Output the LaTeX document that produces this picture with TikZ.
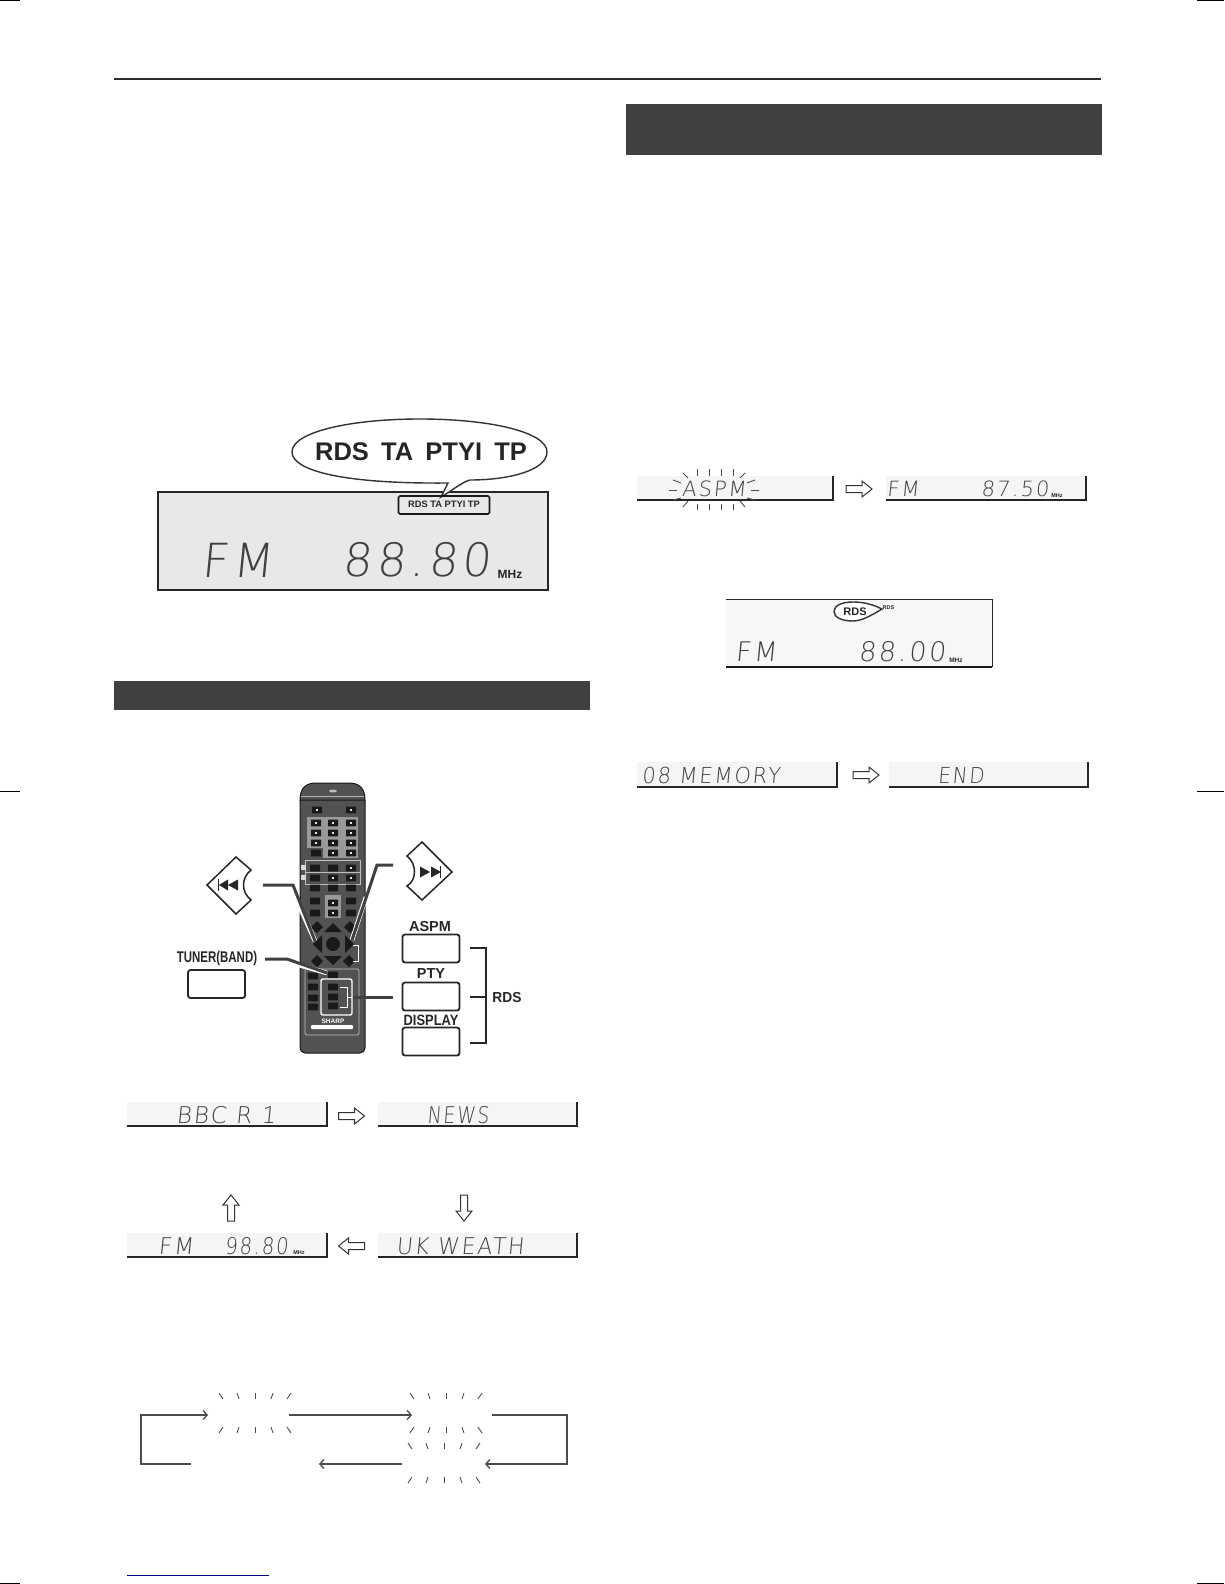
\documentclass[tikz,border=0pt]{standalone}
\usepackage{fontspec}
\usetikzlibrary{arrows.meta}
\setmainfont{Liberation Sans}
\newfontfamily\lcdfont[FakeSlant=0.1,LetterSpace=9]{DejaVu Sans ExtraLight}
\tikzset{
  lcd/.style={font=\lcdfont\fontsize{#1}{#1}\selectfont, text=black!75, inner sep=0pt},
  bold/.style={font=\bfseries\fontsize{#1}{#1}\selectfont, text=black!85, inner sep=0pt},
  keybox/.style={draw=black!85, line width=1.8pt, rounded corners=2.5pt, minimum width=57pt, minimum height=28pt, inner sep=0pt},
  lead/.style={line width=3pt, draw=black!75},
  hollow/.style={draw=black!80, line width=1pt, fill=white},
  flow/.style={line width=1.3pt, draw=black!70, >={Straight Barb[length=4pt,width=9pt]}},
}
% bottom and right edge of a small display
\newcommand\lcdstrip[4]{
  \fill[black!4] (#1,#2) rectangle (#3,#4);
  \draw[black!85, line width=1.6pt] (#1,#4) -- (#3,#4) -- (#3,#2);
}
\newcommand\hollowarrow[3]{
  \draw[hollow, shift={(#1,#2)}, rotate=#3] (-13,-3.5) -- (3,-3.5) -- (3,-8) -- (13,0) -- (3,8) -- (3,3.5) -- (-13,3.5) -- cycle;
}
\newcommand\flash[2]{
  \foreach \i in {-2,...,2} {
    \draw[black!70, line width=.9pt] (#1+\i*16,#2-14) -- (#1+\i*18,#2-20);
    \draw[black!70, line width=.9pt] (#1+\i*16,#2+14) -- (#1+\i*18,#2+20);
  }
}
\newcommand\rkey[2]{\fill[black!90, rounded corners=.6pt] (#1-5,#2-3.4) rectangle (#1+5,#2+3.4);}
\newcommand\rmark[2]{\fill[black!10] (#1-1.2,#2-1) rectangle (#1+1.2,#2+1);}
\begin{document}
\begin{tikzpicture}[x=1pt, y=-1pt]
  \useasboundingbox (0,0) rectangle (1224,1584);

  % page furniture
  \fill[black] (0,0) rectangle (20,1.2);
  \fill[black] (1197,0) rectangle (1224,1.2);
  \fill[black] (0,790.5) rectangle (20,791.8);
  \fill[black] (1197,790.5) rectangle (1224,791.8);
  \fill[black] (0,1582.8) rectangle (20,1584);
  \fill[black] (1197,1582.8) rectangle (1224,1584);
  \fill[black!82] (114,78) rectangle (1101,80);
  \fill[black!75] (626,104) rectangle (1102,155);
  \fill[black!75] (114,681) rectangle (590,710);
  \fill[blue!50!black] (127,1574.6) rectangle (269,1575.6);

  % large display
  \draw[black!85, fill=black!9, line width=1.5pt] (158,492) rectangle (548,590);
  \draw[black!80, fill=white, line width=1.4pt] (448,483) .. controls (340,484) and (292,470) .. (292,452)
    .. controls (292,432) and (350,419) .. (420,419) .. controls (490,419) and (547,432) .. (547,452)
    .. controls (547,470) and (510,480) .. (470,480) .. controls (462,482) and (450,492) .. (441,497) -- cycle;
  \node[bold=25.5] (bigtags) at (421,452) {RDS\hspace{.2em} TA\hspace{.2em} PTYI\hspace{.2em} TP};
  \node[draw=black!90, line width=1.7pt, rounded corners=1.5pt, minimum width=91pt, minimum height=18pt, inner sep=0pt] (tagbox) at (444,505) {};
  \node[bold=9.3] (smalltags) at (444,504) {RDS TA PTYI TP};
  \node[lcd=47] (bigfm) at (237,560) {FM};
  \node[lcd=46] (bigfreq) at (417,560) {88.80};
  \node[bold=12] (bigmhz) at (510,574) {MHz};

  % remote
  \draw[black!90, fill=black!68, line width=1pt, rounded corners=5pt] (300,800) -- (300,1053) -- (365,1053) -- (365,800);
  \draw[black!90, fill=black!68, line width=1pt] (300,800) .. controls (300,788) and (306,783) .. (316,783) -- (349,783) .. controls (359,783) and (365,788) .. (365,800) -- cycle;
  \draw[black!30, line width=.5pt] (301,796) -- (364,796);
  \fill[black!25] (333,791) ellipse (4 and 1.5);
  \fill[black!40] (307,817) rectangle (358,848);
  \fill[black!40] (323,848) rectangle (358,858);
  \foreach \y in {823,833,843} \foreach \x in {316,333,351} {\rkey{\x}{\y}\rmark{\x}{\y}}
  \rkey{316}{853}\rkey{333}{853}\rkey{351}{853}\rmark{333}{853}\rmark{351}{853}
  \rkey{317}{810}\rmark{317}{810}\rkey{351}{810}\rmark{351}{810}
  \draw[black!25, line width=.7pt] (305,860) rectangle (360,884);
  \draw[black!25, line width=.7pt] (305,872) -- (360,872);
  \fill[black!15] (301,865) rectangle (306,870);
  \fill[black!15] (301,875) rectangle (306,880);
  \foreach \y in {868,878,888} \foreach \x in {315,333,351} {\rkey{\x}{\y}}
  \rmark{351}{868}\rmark{333}{878}\rmark{351}{878}
  \fill[black!40] (325,895) rectangle (341,918);
  \foreach \y in {901,913} {\rkey{315}{\y}\rkey{351}{\y}}
  \rkey{333}{903}\rkey{333}{913}\rmark{333}{903}\rmark{333}{913}
  % cursor keys
  \fill[black!90] (333,923) -- (342,932) -- (324,932) -- cycle;
  \fill[black!90] (333,965) -- (342,956) -- (324,956) -- cycle;
  \fill[black!90] (313,944) -- (322,935) -- (322,953) -- cycle;
  \fill[black!90] (354,944) -- (345,935) -- (345,953) -- cycle;
  \foreach \x/\y in {317/927,350/927,317/961,349/961}
    \fill[black!90, shift={(\x,\y)}] (-6,0) -- (0,-6) -- (6,0) -- (0,6) -- cycle;
  \fill[black!90] (333,944) circle (7);
  \draw[white, line width=.6pt] (353,945) -- (358,945) -- (358,961) -- (353,961);
  \draw[black!25, line width=.7pt, rounded corners=2pt] (305,969) rectangle (359,1035);
  \rkey{333}{975}
  \foreach \y in {976,987,998,1007} {\rkey{313}{\y}}
  \draw[white, line width=1.4pt, rounded corners=2pt] (321,979) rectangle (352,1015);
  \foreach \y in {987,997,1006} {\rkey{333}{\y}}
  \draw[white, line width=.6pt] (340,987) -- (347,987) -- (347,1007) -- (340,1007);
  \draw[white, line width=.6pt] (347,997) -- (352,997);
  \node[bold=6.5, text=white] (maker) at (333,1021) {SHARP};
  \fill[white, rounded corners=1pt] (311,1025) rectangle (353,1029);

  % leads
  \coordinate (prevend) at (263,885);
  \coordinate (prevbend) at (293,885);
  \coordinate (prevkey) at (315,941);
  \coordinate (nextend) at (393,865);
  \coordinate (nextbend) at (377,865);
  \coordinate (nextkey) at (352,940);
  \coordinate (bandend) at (265,959);
  \coordinate (bandbend) at (287,959);
  \coordinate (bandkey) at (327,973);
  \coordinate (rdsend) at (393,997);
  \coordinate (rdskey) at (353,997);
  \draw[white, line width=4.6pt] (299,905) -- (prevkey);
  \draw[white, line width=4.6pt] (366,897) -- (nextkey);
  \draw[white, line width=4.6pt] (299,965) -- (bandkey);
  \draw[lead] (prevend) -- (prevbend) -- (prevkey);
  \draw[lead] (nextend) -- (nextbend) -- (nextkey);
  \draw[lead] (bandend) -- (bandbend) -- (bandkey);
  \draw[lead] (rdsend) -- (rdskey);

  % skip keys
  \draw[black!85, line width=1.5pt, line join=miter] (207,885) -- (236,857) -- (251,870) .. controls (241,878) and (241,892) .. (251,900) -- (236,914) -- cycle;
  \draw[black!85, line width=1.5pt, line join=miter] (452,872) -- (422,842) -- (407,856) .. controls (417,864) and (417,880) .. (407,886) -- (422,900) -- cycle;
  \fill[black!85] (218,879) rectangle (219.4,891);
  \fill[black!85] (219,885) -- (228,879.5) -- (228,890.5) -- cycle;
  \fill[black!85] (228,885) -- (238,879.5) -- (238,890.5) -- cycle;
  \fill[black!85] (440,866) rectangle (441.4,878);
  \fill[black!85] (441,872) -- (431,866.5) -- (431,877.5) -- cycle;
  \fill[black!85] (430,872) -- (420,866.5) -- (420,877.5) -- cycle;

  \node[keybox] (tunerkey) at (216.5,984) {};
  \node[bold=15.5, xscale=.74] (tunerlabel) at (217,958) {TUNER(BAND)};
  \node[keybox] (aspmkey) at (431,948.5) {};
  \node[bold=14.5] (aspmlabel) at (430,926) {ASPM};
  \node[keybox] (ptykey) at (431,996.5) {};
  \node[bold=14.5] (ptylabel) at (431,974) {PTY};
  \node[keybox] (displaykey) at (431,1041.5) {};
  \node[bold=15, xscale=.86] (displaylabel) at (431,1020) {DISPLAY};
  \node[bold=14.5, xscale=.95] (rdslabel) at (507,997) {RDS};
  \coordinate (bracktop) at (470,948);
  \coordinate (brackmid) at (470,997);
  \coordinate (brackbot) at (470,1043);
  \draw[black!85, line width=1.6pt] (bracktop) -- (486,948) -- (486,1043) -- (brackbot);
  \draw[black!85, line width=1.6pt] (brackmid) -- (486,997);

  % station name displays
  \lcdstrip{127}{1102}{327}{1126}
  \lcdstrip{378}{1102}{577}{1126}
  \lcdstrip{127}{1233}{327}{1257}
  \lcdstrip{378}{1233}{577}{1257}
  \node[lcd=23] (stname) at (226,1115) {BBC R 1};
  \node[lcd=23, xscale=.82] (stnews) at (458,1115) {NEWS};
  \node[lcd=23, xscale=.95] (stweather) at (460,1246) {UK WEATH};
  \node[lcd=23] (stfm) at (176,1246) {FM};
  \node[lcd=23, xscale=.85] (stfreq) at (256.5,1246) {98.80};
  \node[bold=5.5] (stmhz) at (299,1253) {MHz};
  \hollowarrow{351.5}{1116}{0}
  \hollowarrow{351.5}{1246}{180}
  \hollowarrow{231}{1208}{90}
  \hollowarrow{464}{1208}{-90}

  % blinking loop
  \flash{255}{1413}
  \flash{446}{1413}
  \flash{444}{1463}
  \coordinate (loopa) at (191,1464);
  \coordinate (loopb) at (208,1415);
  \coordinate (loopc) at (289,1415);
  \coordinate (loopd) at (412,1415);
  \coordinate (loope) at (492,1415);
  \coordinate (loopf) at (485,1464);
  \coordinate (loopg) at (402,1464);
  \coordinate (looph) at (319,1464);
  \draw[flow, ->] (loopa) -- (141,1464) -- (141,1415) -- (loopb);
  \draw[flow, ->] (loopc) -- (loopd);
  \draw[flow, ->] (loope) -- (567,1415) -- (567,1464) -- (loopf);
  \draw[flow, ->] (loopg) -- (looph);

  % auto preset displays
  \lcdstrip{637}{476}{833}{500}
  \lcdstrip{886}{476}{1086}{500}
  \node[lcd=21] (aspmshow) at (714,489) {ASPM};
  \node[lcd=21] (presetfm) at (903,489) {FM};
  \node[lcd=21] (presetfreq) at (1015,489) {87.50};
  \node[bold=5.5] (presetmhz) at (1057,496) {MHz};
  \foreach \x in {697,709,721,733} {
    \draw[black!70, line width=.9pt] (\x,469) -- (\x,476);
    \draw[black!70, line width=.9pt] (\x,504) -- (\x,510);
  }
  \foreach \ax/\ay/\bx/\by in {683/473/688/478, 673/480/681/483, 669/490/677/490, 673/500/681/498, 683/507/688/501, 745/473/740/478, 755/480/747/483, 759/490/751/490, 755/500/747/498, 745/507/740/501}
    \draw[black!70, line width=.9pt] (\ax,\ay) -- (\bx,\by);
  \hollowarrow{859}{489}{0}

  \fill[black!3] (726,599) rectangle (992,667);
  \draw[black!85, line width=.7pt] (726,599) -- (992,599) -- (992,667);
  \draw[black!90, line width=1.4pt] (726,667) -- (992,667);
  \draw[black!80, fill=white, line width=1.4pt] (882,609) .. controls (870,603) and (860,602) .. (853,602)
    .. controls (841,602) and (834,606) .. (834,611.5) .. controls (834,617) and (841,621) .. (853,621)
    .. controls (862,621) and (872,615) .. (882,609) -- cycle;
  \node[bold=11] (rdstag) at (855,611.5) {RDS};
  \node[bold=5.5] (rdstagsmall) at (888.5,608) {RDS};
  \node[lcd=27] (rdsfm) at (756,652) {FM};
  \node[lcd=27] (rdsfreq) at (902,652) {88.00};
  \node[bold=6.5] (rdsmhz) at (956,660) {MHz};

  \lcdstrip{637}{762}{837}{787}
  \lcdstrip{889}{762}{1088}{787}
  \node[lcd=22, xscale=.95] (memshow) at (711,775) {08 MEMORY};
  \node[lcd=22, xscale=.9] (endshow) at (961,775) {END};
  \hollowarrow{866}{775}{0}
\end{tikzpicture}
\end{document}
